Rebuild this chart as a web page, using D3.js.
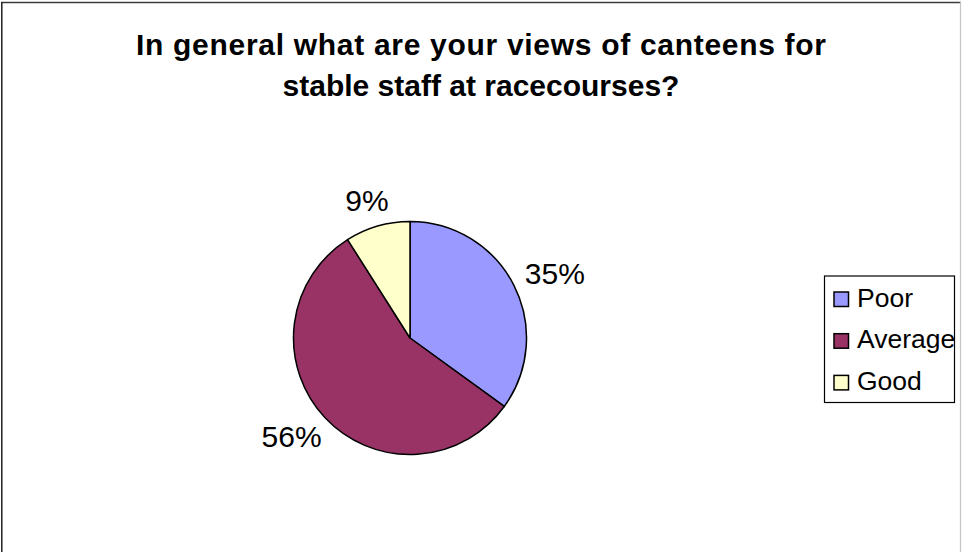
<!DOCTYPE html>
<html>
<head>
<meta charset="utf-8">
<script src="https://cdn.jsdelivr.net/npm/d3@7/dist/d3.min.js"></script>
<style>
  html, body { margin: 0; padding: 0; background: #fff; }
  svg { display: block; font-family: Arial, "Liberation Sans", sans-serif; }
</style>
</head>
<body>
<svg id="chart" width="962" height="552"></svg>
<script>
// Survey responses
const categories = ["Poor", "Average", "Good"];
const values = [35, 56, 9];
const colors = ["#9999FF", "#993366", "#FFFFCC"];
const titleLines = ["In general what are your views of canteens for", "stable staff at racecourses?"];

const svg = d3.select("#chart");
const W = 962, H = 552;

svg.append("rect").attr("width", W).attr("height", H).attr("fill", "#fff");

// Chart frame
svg.append("line").attr("x1", 1.5).attr("x2", 961).attr("y1", 2.5).attr("y2", 2.5)
  .attr("stroke", "#3c3c3c").attr("stroke-width", 1.6);
svg.append("line").attr("x1", 1.8).attr("x2", 1.8).attr("y1", 2).attr("y2", H)
  .attr("stroke", "#111").attr("stroke-width", 1.4);
svg.append("line").attr("x1", 960.5).attr("x2", 960.5).attr("y1", 2).attr("y2", H)
  .attr("stroke", "#c4c4c4").attr("stroke-width", 1.2);

// Title (first line is spread a little wider)
const titleWidths = [690, null];
const title = svg.append("text")
  .attr("text-anchor", "middle")
  .attr("font-weight", "bold")
  .attr("font-size", 30)
  .attr("fill", "#000");
titleLines.forEach((t, i) => {
  const ts = title.append("tspan").attr("x", 481).attr("y", 55 + i * 40.5).text(t);
  if (titleWidths[i]) ts.attr("textLength", titleWidths[i]).attr("lengthAdjust", "spacing");
});

// Pie
const cx = 410, cy = 338, r = 116.5;
const color = d3.scaleOrdinal().domain(categories).range(colors);
const pie = d3.pie().sort(null).value(d => d.value);
const arc = d3.arc().innerRadius(0).outerRadius(r);
const data = categories.map((c, i) => ({ cat: c, value: values[i] }));
const arcs = pie(data);
const total = d3.sum(values);

const g = svg.append("g").attr("transform", `translate(${cx},${cy})`);
g.selectAll("path").data(arcs).join("path")
  .attr("d", arc)
  .attr("fill", d => color(d.data.cat))
  .attr("stroke", "#000")
  .attr("stroke-width", 1.5)
  .attr("stroke-linejoin", "round");

// Percentage labels placed just outside each slice
const labelR = r + 16;
const fs = 30, cap = fs * 0.716;
g.selectAll("text.pct").data(arcs).join("text")
  .attr("class", "pct")
  .attr("font-size", fs)
  .attr("text-anchor", "middle")
  .attr("fill", "#000")
  .text(d => Math.round(d.data.value / total * 100) + "%")
  .each(function(d) {
    const a = (d.startAngle + d.endAngle) / 2;
    const w = this.getComputedTextLength();
    const px = Math.sin(a) * labelR, py = -Math.cos(a) * labelR;
    const bx = px + Math.sin(a) * w / 2;
    const by = py - Math.cos(a) * cap / 2;
    d3.select(this).attr("x", bx).attr("y", by + cap / 2);
  });

// Legend
const lg = svg.append("g");
lg.append("rect").attr("x", 824.5).attr("y", 276).attr("width", 130).attr("height", 126.5)
  .attr("fill", "#fff").attr("stroke", "#000").attr("stroke-width", 1.2);
const item = lg.selectAll("g.item").data(categories).join("g")
  .attr("class", "item")
  .attr("transform", (d, i) => `translate(0,${i * 41.7})`);
item.append("rect").attr("x", 834).attr("y", 292).attr("width", 14.5).attr("height", 14.5)
  .attr("fill", d => color(d)).attr("stroke", "#000").attr("stroke-width", 1.5);
item.append("text").attr("x", 857).attr("y", 306.7).attr("font-size", 26.5).attr("fill", "#000")
  .text(d => d);
</script>
</body>
</html>
